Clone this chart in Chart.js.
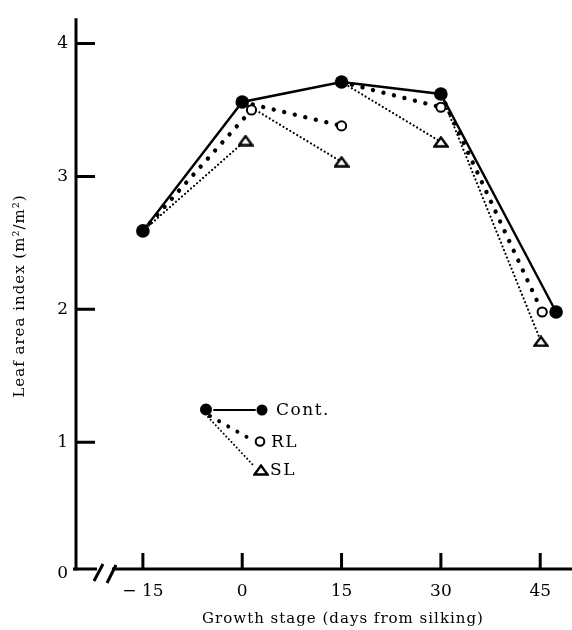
<!DOCTYPE html>
<html>
<head>
<meta charset="utf-8">
<script src="https://cdn.jsdelivr.net/npm/chart.js@4.4.1/dist/chart.umd.min.js"></script>
<style>
  html, body { margin: 0; padding: 0; background: #fff; }
  canvas { display: block; }
</style>
</head>
<body>
<canvas id="lai-chart" width="572" height="630"></canvas>
<script>
// 刻度
const xTicks = [-15, 0, 15, 30, 45];
const yTicks = [1, 2, 3, 4];

// 對照組 (天數, 葉面積指數)
const contDays = [-15, 0, 15, 30, 47.4];
const contLAI = [2.59, 3.56, 3.71, 3.62, 1.98];
// 處理組：每段都從前一期的對照點出發
const rlDays = [1.4, 15, 30, 45.3];
const rlLAI = [3.50, 3.38, 3.52, 1.98];
const slDays = [0.5, 15, 30, 45.1];
const slLAI = [3.27, 3.11, 3.26, 1.76];

const serif = 'DejaVu Serif';

function toPoints(xs, ys) {
    return xs.map((v, i) => ({ x: v, y: ys[i] }));
}

// 起點 -> 終點 一段一段，中間以 null 斷開
function branchPoints(days, lai) {
    const pts = [];
    days.forEach((d, i) => {
        if (i > 0) pts.push({ x: contDays[i], y: null });
        pts.push({ x: contDays[i], y: contLAI[i] });
        pts.push({ x: d, y: lai[i] });
    });
    return pts;
}

// 扁三角形標記
function makeTriangle() {
    const c = document.createElement('canvas');
    c.width = 16; c.height = 12;
    const g = c.getContext('2d');
    g.beginPath();
    g.moveTo(1.5, 10.5);
    g.lineTo(14.5, 10.5);
    g.lineTo(8, 1.5);
    g.closePath();
    g.fillStyle = '#fff';
    g.fill();
    g.lineWidth = 2.3;
    g.strokeStyle = '#000';
    g.stroke();
    return c;
}
const triangle = makeTriangle();

// 座標軸、標題與圖例
const paperPlugin = {
    id: 'paperAxes',
    afterDraw(chart) {
        const { ctx, chartArea: a, scales: { x, y } } = chart;
        ctx.save();
        ctx.strokeStyle = '#000';
        ctx.fillStyle = '#000';
        ctx.lineWidth = 3;

        // y 軸
        ctx.beginPath();
        ctx.moveTo(a.left, a.top);
        ctx.lineTo(a.left, a.bottom + 1.5);
        yTicks.forEach(v => {
            const py = y.getPixelForValue(v);
            ctx.moveTo(a.left, py);
            ctx.lineTo(a.left + 19, py);
        });
        ctx.stroke();

        // x 軸 (含斷裂符號)
        ctx.beginPath();
        ctx.moveTo(a.left - 3, a.bottom);
        ctx.lineTo(a.left + 21, a.bottom);
        ctx.moveTo(a.left + 36, a.bottom);
        ctx.lineTo(a.right, a.bottom);
        xTicks.forEach(v => {
            const px = x.getPixelForValue(v);
            ctx.moveTo(px, a.bottom);
            ctx.lineTo(px, a.bottom - 16);
        });
        ctx.stroke();
        ctx.beginPath();
        ctx.moveTo(a.left + 18, a.bottom + 12);
        ctx.lineTo(a.left + 27, a.bottom - 5);
        ctx.moveTo(a.left + 31, a.bottom + 14);
        ctx.lineTo(a.left + 40, a.bottom - 4);
        ctx.stroke();

        // 原點的 0
        ctx.font = '17px "' + serif + '"';
        ctx.textAlign = 'right';
        ctx.textBaseline = 'middle';
        ctx.fillText('0', a.left - 8, y.getPixelForValue(0) - 2);

        // 軸標題
        ctx.letterSpacing = '1px';
        ctx.textAlign = 'center';
        ctx.font = '15px "' + serif + '"';
        ctx.fillText('Growth stage (days from silking)', 343, 619);
        ctx.save();
        ctx.translate(20, 296);
        ctx.rotate(-Math.PI / 2);
        ctx.font = '15px "' + serif + '"';
        ctx.fillText('Leaf area index (m\u00b2/m\u00b2)', 0, 0);
        ctx.restore();

        // 圖例
        ctx.lineCap = 'round';
        ctx.lineWidth = 2;
        ctx.setLineDash([]);
        ctx.beginPath();
        ctx.moveTo(214, 410);
        ctx.lineTo(255, 410);
        ctx.stroke();

        ctx.lineWidth = 4;
        ctx.setLineDash([0.01, 10.5]);
        ctx.beginPath();
        ctx.moveTo(210, 416);
        ctx.lineTo(252, 440);
        ctx.stroke();

        ctx.lineWidth = 2;
        ctx.setLineDash([0.01, 3.8]);
        ctx.beginPath();
        ctx.moveTo(208, 417);
        ctx.lineTo(254, 466);
        ctx.stroke();
        ctx.setLineDash([]);

        ctx.beginPath();
        ctx.arc(206, 409.5, 6, 0, Math.PI * 2);
        ctx.arc(262, 410, 5.5, 0, Math.PI * 2);
        ctx.fill();

        ctx.beginPath();
        ctx.lineWidth = 2;
        ctx.arc(260, 441.5, 4.3, 0, Math.PI * 2);
        ctx.fillStyle = '#fff';
        ctx.fill();
        ctx.stroke();
        ctx.drawImage(triangle, 261 - triangle.width / 2, 470 - triangle.height / 2);

        ctx.fillStyle = '#000';
        ctx.textAlign = 'left';
        ctx.font = '17px "' + serif + '"';
        ctx.letterSpacing = '1.5px';
        ctx.fillText('Cont.', 276, 411);
        ctx.fillText('RL', 271, 443);
        ctx.fillText('SL', 270, 471);
        ctx.restore();
    }
};

// 只在每段終點畫標記
const endOnly = r => c => (c.dataIndex % 3 === 1 ? r : 0);

const ctx = document.getElementById('lai-chart').getContext('2d');
const laiChart = new Chart(ctx, {
    type: 'line',
    data: {
        datasets: [
            {
                label: 'Cont.',
                data: toPoints(contDays, contLAI),
                borderColor: '#000',
                borderWidth: 2.4,
                pointStyle: 'circle',
                pointRadius: 6.8,
                pointBackgroundColor: '#000',
                pointBorderWidth: 0,
                tension: 0
            },
            {
                label: 'RL',
                data: branchPoints(rlDays, rlLAI),
                spanGaps: false,
                borderColor: '#000',
                borderWidth: 4.4,
                borderDash: [0.01, 10.8],
                borderCapStyle: 'round',
                pointStyle: 'circle',
                pointRadius: endOnly(4.6),
                pointBackgroundColor: '#fff',
                pointBorderColor: '#000',
                pointBorderWidth: 2,
                tension: 0
            },
            {
                label: 'SL',
                data: branchPoints(slDays, slLAI),
                spanGaps: false,
                borderColor: '#000',
                borderWidth: 2.2,
                borderDash: [0.01, 4],
                borderCapStyle: 'round',
                pointStyle: triangle,
                pointRadius: endOnly(6),
                tension: 0
            }
        ]
    },
    options: {
        responsive: false,
        animation: false,
        layout: { autoPadding: false, padding: { top: 17, left: 0, right: 0, bottom: 0 } },
        plugins: {
            legend: { display: false },
            tooltip: { enabled: false }
        },
        scales: {
            x: {
                type: 'linear',
                min: -25.1,
                max: 49.8,
                grid: { display: false, drawTicks: false },
                border: { display: false },
                afterBuildTicks: scale => {
                    scale.ticks = xTicks.map(v => ({ value: v }));
                },
                afterFit: scale => { scale.height = 61; },
                ticks: {
                    padding: 12,
                    color: '#000',
                    font: { family: serif, size: 17 },
                    callback: v => (v < 0 ? '\u2212 ' + Math.abs(v) : String(v))
                }
            },
            y: {
                type: 'linear',
                min: 0.047,
                max: 4.19,
                grid: { display: false, drawTicks: false },
                border: { display: false },
                afterBuildTicks: scale => {
                    scale.ticks = yTicks.map(v => ({ value: v }));
                },
                afterFit: scale => { scale.width = 76; },
                ticks: {
                    padding: 8,
                    color: '#000',
                    font: { family: serif, size: 17 }
                }
            }
        }
    },
    plugins: [paperPlugin]
});
</script>
</body>
</html>
